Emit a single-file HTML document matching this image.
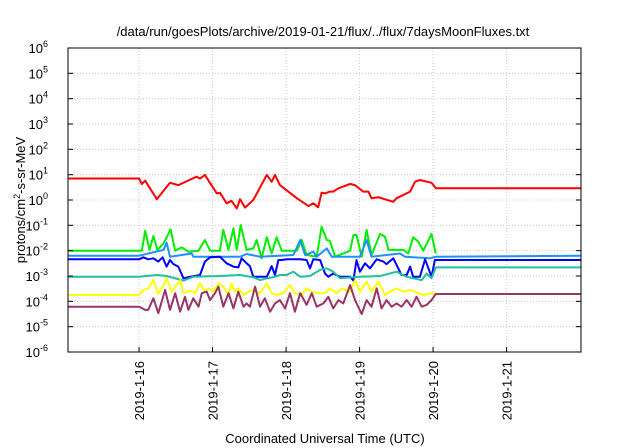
<!DOCTYPE html>
<html><head><meta charset="utf-8"><style>
html,body{margin:0;padding:0;background:#fff;}
svg{display:block;font-family:"Liberation Sans",sans-serif;}
</style></head><body>
<svg id="chart" width="640" height="448" viewBox="0 0 640 448">
<text x="323" y="36" font-size="13" text-anchor="middle">/data/run/goesPlots/archive/2019-01-21/flux/../flux/7daysMoonFluxes.txt</text>
<text transform="translate(25,200) rotate(-90)" font-size="13" text-anchor="middle">protons/cm<tspan dy="-5" font-size="9">2</tspan><tspan dy="5">-s-sr-MeV</tspan></text>
<text x="325" y="443" font-size="13" text-anchor="middle">Coordinated Universal Time (UTC)</text>
<g id="grid"></g><g id="series"></g><g id="axes"></g>
</svg>
<script>
const yTickExps=[-6,-5,-4,-3,-2,-1,0,1,2,3,4,5,6];
const xTickLabels=["2019-1-16","2019-1-17","2019-1-18","2019-1-19","2019-1-20","2019-1-21"];
const xTickHours=[0,24,48,72,96,120];
const domainHours=[-23.2,144.3];
// hours since 2019-01-16 00:00 UTC, log10 flux
const redHours=[-23.2,0,0.9,2.0,5.8,10.1,12.8,18.8,19.9,21.5,25.4,26.4,28.6,30.2,31.9,33.0,34.6,37.3,41.7,43.3,44.4,46.0,51.5,55.3,56.9,58.5,59.6,60.7,62.3,63.4,65.1,68.9,70.5,73.2,74.9,75.9,78.1,83.0,84.1,88.5,90.1,91.7,95.5,96.9,144.3];
const redLog=[0.85,0.85,0.63,0.76,0.03,0.68,0.59,0.92,0.85,0.99,0.26,0.29,-0.13,-0.03,-0.33,0.03,-0.30,0.0,0.99,0.72,0.99,0.59,0.07,-0.24,-0.13,-0.29,0.29,0.26,0.33,0.33,0.46,0.63,0.59,0.33,0.33,0.07,0.11,-0.07,0.07,0.33,0.72,0.79,0.68,0.46,0.46];
const greenHours=[-23.2,0,0.9,2.0,3.4,4.7,6.0,8.0,10.3,11.8,13.9,16.1,19.4,21.5,23.2,26.4,27.5,29.2,30.8,31.9,33.2,35.1,37.3,38.4,40.0,41.7,43.3,44.9,46.6,51.5,53.1,54.7,58.0,59.6,61.3,62.3,64.0,68.9,70.0,71.0,72.7,74.3,75.9,78.7,80.3,81.4,86.3,87.9,89.5,91.2,92.8,95.5,96.9];
const greenLog=[-2.0,-2.0,-2.0,-1.21,-1.97,-1.42,-1.97,-1.71,-1.16,-2.0,-1.87,-2.04,-2.0,-1.58,-2.0,-2.0,-1.18,-1.97,-1.12,-1.97,-0.99,-1.97,-1.91,-1.58,-2.30,-1.47,-2.11,-1.47,-2.0,-2.0,-1.58,-2.17,-2.24,-1.05,-1.58,-1.61,-2.24,-2.0,-1.38,-1.38,-2.24,-1.18,-2.17,-1.34,-1.45,-1.97,-1.97,-2.11,-1.47,-1.65,-2.0,-1.34,-2.11];
const lightBlueHours=[-23.2,0,8.0,9.0,10.1,17.2,17.7,33.0,35.1,39.5,50.4,52.6,54.2,56.9,58.0,61.3,62.9,72.1,74.3,75.9,85.2,86.8,95.0,96.9,144.3];
const lightBlueLog=[-2.2,-2.2,-1.97,-1.68,-2.24,-2.11,-2.24,-2.24,-2.13,-2.24,-2.17,-1.58,-2.17,-2.04,-2.24,-1.91,-2.24,-2.24,-1.58,-2.24,-2.11,-2.24,-2.30,-2.24,-2.2];
const blueHours=[-23.2,0,1.4,3.0,4.7,6.3,7.7,9.0,10.1,11.2,12.8,14.5,16.6,19.9,21.5,23.2,26.4,28.6,30.8,32.4,33.5,35.1,36.2,37.3,41.7,43.3,44.4,45.5,46.6,48.2,52.6,54.7,55.8,56.9,59.1,60.7,61.8,63.4,65.6,68.9,70.0,71.0,72.1,73.8,75.4,77.6,79.8,80.8,83.0,85.7,87.4,88.5,89.5,91.7,93.4,95.5,96.6,144.3];
const blueLog=[-2.34,-2.34,-2.26,-2.34,-2.30,-2.43,-2.26,-2.63,-2.37,-2.53,-2.63,-3.09,-3.03,-2.96,-2.43,-2.26,-2.24,-2.50,-2.63,-2.66,-2.30,-2.50,-2.61,-3.03,-3.03,-2.61,-2.96,-2.37,-2.37,-2.34,-2.34,-2.37,-2.70,-2.34,-2.37,-2.90,-3.03,-2.90,-3.03,-3.03,-3.18,-2.37,-2.83,-2.50,-2.70,-2.34,-2.43,-2.53,-2.30,-2.96,-2.96,-2.63,-3.03,-3.03,-2.34,-3.03,-2.37,-2.37];
const tealHours=[-23.2,0,5.8,9.0,14.5,17.7,26.4,33.0,37.3,39.5,41.7,43.8,46.0,48.2,50.4,52.6,55.8,59.1,61.3,63.4,65.6,72.1,78.7,84.1,87.4,92.3,93.9,95.5,96.9,144.3];
const tealLog=[-3.03,-3.03,-2.96,-3.0,-3.18,-3.03,-3.0,-2.96,-3.05,-3.16,-3.09,-3.05,-2.96,-2.96,-2.83,-3.03,-3.0,-2.76,-2.70,-2.83,-3.09,-3.03,-3.0,-2.83,-3.03,-3.16,-2.90,-3.09,-2.66,-2.66];
const yellowHours=[-23.2,0,1.4,3.0,4.7,6.3,8.0,9.0,10.7,13.4,14.5,16.6,18.3,19.9,21.5,22.6,24.3,25.9,27.5,29.2,30.2,31.3,32.4,34.1,35.7,37.3,39.5,41.7,43.3,44.9,47.1,49.3,50.9,53.1,54.7,56.4,58.5,60.7,62.3,64.5,66.2,68.9,70.5,72.1,74.3,75.9,78.1,80.3,81.9,84.1,86.3,88.5,91.2,92.8,95.5,96.9,144.3];
const yellowLog=[-3.75,-3.75,-3.55,-3.49,-3.16,-3.71,-3.36,-3.09,-3.62,-3.16,-3.68,-3.58,-3.68,-3.29,-3.62,-3.49,-3.62,-3.29,-3.42,-3.75,-3.29,-3.62,-3.49,-3.75,-3.62,-3.55,-3.68,-3.29,-3.68,-3.75,-3.68,-3.36,-3.68,-3.75,-3.49,-3.62,-3.68,-3.68,-3.49,-3.68,-3.49,-3.62,-3.16,-3.62,-3.22,-3.62,-3.22,-3.75,-3.62,-3.49,-3.62,-3.55,-3.68,-3.75,-3.68,-3.71,-3.71];
const purpleHours=[-23.2,0,2.0,3.0,4.7,6.3,8.5,10.1,11.8,13.4,15.0,16.1,17.7,19.4,20.5,22.1,23.2,24.8,25.9,27.5,29.2,30.8,32.4,34.1,35.1,36.2,37.9,39.5,41.1,42.8,44.4,46.0,47.7,49.3,50.9,52.6,54.7,56.4,58.0,60.2,61.8,63.4,65.1,66.7,68.9,70.5,72.7,74.3,75.9,77.6,79.2,80.8,82.5,84.1,85.7,87.4,89.0,90.6,92.3,93.9,95.5,96.9,144.3];
const purpleLog=[-4.21,-4.21,-4.34,-4.34,-3.88,-4.47,-3.55,-4.34,-3.68,-4.41,-3.82,-4.34,-3.88,-4.21,-3.68,-3.62,-3.95,-3.68,-3.42,-4.21,-3.68,-4.28,-3.62,-4.21,-4.08,-4.21,-3.42,-4.21,-3.88,-4.41,-4.08,-3.95,-4.28,-3.68,-4.41,-3.68,-4.14,-3.68,-4.21,-4.08,-3.82,-4.28,-3.95,-4.08,-3.36,-3.95,-4.50,-3.95,-4.21,-3.49,-4.28,-3.95,-4.21,-4.08,-4.21,-3.95,-4.21,-3.82,-4.21,-4.14,-3.95,-3.71,-3.71];

const L=68,R=581,T=48,B=352;
const NS="http://www.w3.org/2000/svg";
function xs(h){return L+(h-domainHours[0])/(domainHours[1]-domainHours[0])*(R-L);}
function ys(lg){return B-(lg+6)/12*(B-T);}
function mk(tag,attrs,parent){const e=document.createElementNS(NS,tag);for(const k in attrs)e.setAttribute(k,attrs[k]);parent.appendChild(e);return e;}
const grid=document.getElementById('grid'),axes=document.getElementById('axes'),ser=document.getElementById('series');
yTickExps.forEach(function(e){
  const y=ys(e);
  if(e>-6&&e<6){const g=mk('line',{x1:L,x2:R,y1:y,y2:y,stroke:'#c8c8c8','stroke-dasharray':'1,2'},grid);
  
  }
  const tk=mk('line',{x1:L,x2:L+5,y1:y,y2:y,stroke:'#000'},axes);
  
  
  const tk2=mk('line',{x1:R-5,x2:R,y1:y,y2:y,stroke:'#000'},axes);
  
  
  const t=mk('text',{x:L-20,y:y+5,'font-size':'13','text-anchor':'end'},axes);
  
  
  t.textContent='10';
  const s=mk('tspan',{dy:'-6','font-size':'9'},t);s.textContent=String(e);
});
xTickHours.forEach(function(h,i){
  const x=xs(h);
  const g=mk('line',{x1:x,x2:x,y1:T,y2:B,stroke:'#c8c8c8','stroke-dasharray':'1,2'},grid);
  
  
  const tk=mk('line',{x1:x,x2:x,y1:B-5,y2:B,stroke:'#000'},axes);
  
  
  const t=mk('text',{transform:'translate('+(x+5)+','+(B+9)+') rotate(-90)','font-size':'13','text-anchor':'end'},axes);
  
  
  t.textContent=xTickLabels[i];
});
const fr=mk('rect',{x:L,y:T,width:R-L,height:B-T,fill:'none',stroke:'#000','stroke-width':'1'},axes);


const seriesList=[
 ['red-series',redHours,redLog,'#ff0000'],
 ['green-series',greenHours,greenLog,'#00ee00'],
 ['light-blue-series',lightBlueHours,lightBlueLog,'#1e90ff'],
 ['blue-series',blueHours,blueLog,'#0000ff'],
 ['teal-series',tealHours,tealLog,'#20c0a0'],
 ['yellow-series',yellowHours,yellowLog,'#ffff00'],
 ['purple-series',purpleHours,purpleLog,'#993366']
];
seriesList.forEach(function(s){
  const pts=s[1].map(function(h,i){return xs(h).toFixed(1)+','+ys(s[2][i]).toFixed(1);}).join(' ');
  const p=mk('polyline',{points:pts,fill:'none',stroke:s[3],'stroke-width':'2','stroke-linejoin':'round'},ser);
  
  
});
</script>
</body></html>
